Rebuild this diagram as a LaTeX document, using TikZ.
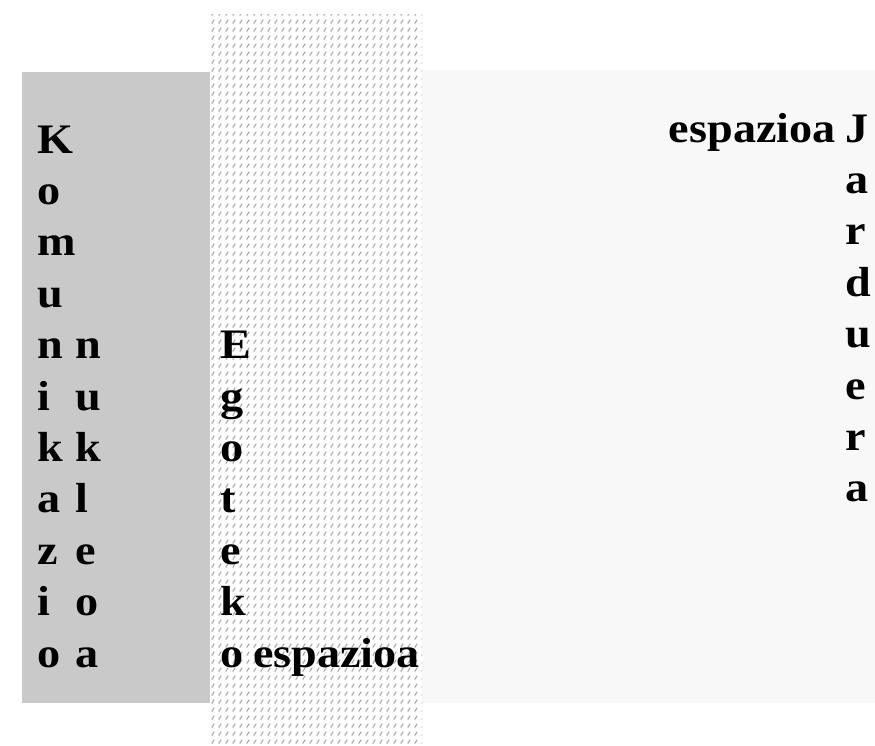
\documentclass[tikz,border=0pt]{standalone}
\usepackage{fontspec}
\newfontfamily\lblfont{Liberation Serif}[FakeStretch=1.1]
\usetikzlibrary{patterns.meta}
\tikzdeclarepattern{
  name=shortdash,
  type=uncolored,
  bottom left={(0pt,0pt)},
  top right={(7pt,7.5pt)},
  tile size={(7pt,7.5pt)},
  code={\draw[line width=1.2pt] (2pt,1.5pt) -- (4.8pt,5.8pt);}
}
\definecolor{darkzone}{HTML}{C9C9C9}
\definecolor{lightzone}{HTML}{F8F8F8}
\definecolor{dashgray}{HTML}{A8A8A8}
\begin{document}
\begin{tikzpicture}[x=1pt,y=-1pt,
  lt/.style={inner sep=0pt, anchor=base west, font=\lblfont\bfseries\fontsize{42}{50}\selectfont, text=black}]
\useasboundingbox (0,0) rectangle (875,745);
% zones
\fill[darkzone] (22,72) rectangle (210,703);
\fill[lightzone] (422,70) rectangle (875,703);
\fill[white] (210,14) rectangle (422,745);
\fill[pattern=shortdash, pattern color=dashgray] (210,14) rectangle (422,745);
% Komunikazio nukleoa
\foreach \l [count=\i from 0] in {K,o,m,u,n,i,k,a,z,i,o}
  \node[lt] (kom\i) at (37,153+51.4*\i) {\l};
\foreach \l [count=\i from 4] in {n,u,k,l,e,o,a}
  \node[lt] (nuk\i) at (75,153+51.4*\i) {\l};
% Egoteko espazioa
\foreach \l [count=\i from 4] in {E,g,o,t,e,k,o}
  \node[lt] (ego\i) at (220,153+51.4*\i) {\l};
\node[lt] (egoesp) at (253,667) {espazioa};
% espazioa Jarduera
\node[lt, anchor=base east] (jaresp) at (836,142) {espazioa};
\foreach \l [count=\i from 0] in {J,a,r,d,u,e,r,a}
  \node[lt] (jar\i) at (845,142+51.4*\i) {\l};
\end{tikzpicture}
\end{document}
